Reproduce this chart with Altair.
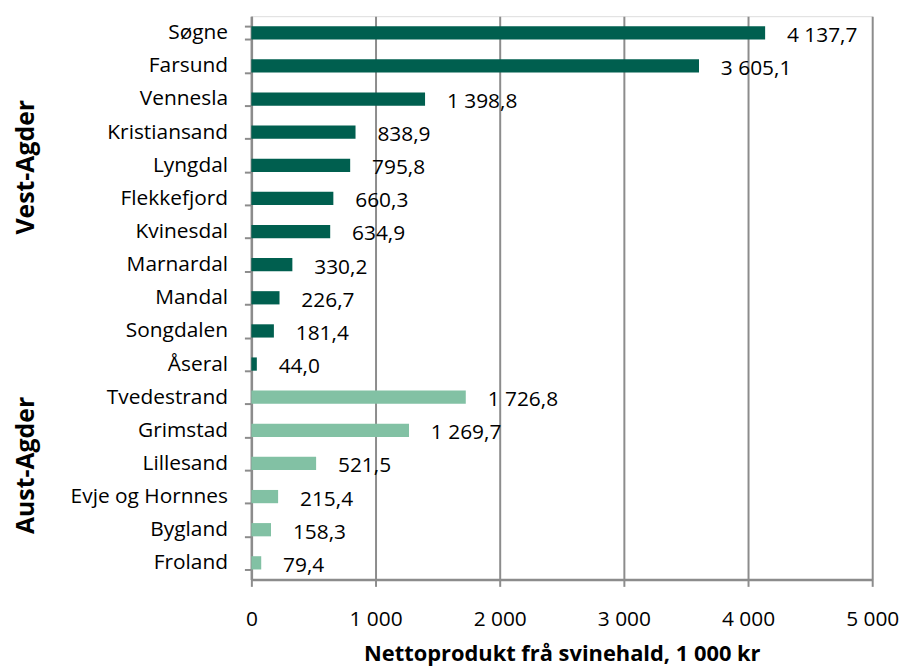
import altair as alt
import pandas as pd

municipalities = ["Søgne", "Farsund", "Vennesla", "Kristiansand", "Lyngdal", "Flekkefjord",
                  "Kvinesdal", "Marnardal", "Mandal", "Songdalen", "Åseral",
                  "Tvedestrand", "Grimstad", "Lillesand", "Evje og Hornnes", "Bygland", "Froland"]
values = [4137.7, 3605.1, 1398.8, 838.9, 795.8, 660.3, 634.9, 330.2, 226.7, 181.4, 44.0,
          1726.8, 1269.7, 521.5, 215.4, 158.3, 79.4]
counties = ["Vest-Agder"] * 11 + ["Aust-Agder"] * 6

group_names = ["Vest-Agder", "Aust-Agder"]
group_anchor = ["Lyngdal", "Lillesand"]


def no_fmt(v):
    s = f"{v:,.1f}"
    return s.replace(",", " ").replace(".", ",")


df = pd.DataFrame({"kommune": municipalities, "verdi": values, "fylke": counties})
df["label"] = [no_fmt(v) for v in values]
gdf = pd.DataFrame({"fylke": group_names, "kommune": group_anchor})

FONT = "Open Sans"
GRAY = "#8c8c8c"
FS = 21

yscale = alt.Scale(domain=municipalities, paddingInner=0.6, paddingOuter=0.3)
xscale = alt.Scale(domain=[0, 5000], nice=False)

base = alt.Chart(df)

bars = base.mark_bar().encode(
    y=alt.Y("kommune:N", scale=yscale, sort=municipalities,
            axis=alt.Axis(title=None, labelFont=FONT, labelFontSize=FS, labelColor="#000",
                          tickBand="extent", tickSize=7, tickColor=GRAY, tickWidth=2,
                          domainColor=GRAY, domainWidth=2.5, labelPadding=17, grid=False)),
    x=alt.X("verdi:Q", scale=xscale,
            axis=alt.Axis(title="Nettoprodukt frå svinehald, 1 000 kr", values=[0, 1000, 2000, 3000, 4000, 5000],
                          labelExpr="replace(format(datum.value, ','), ',', ' ')",
                          labelFlush=False, labelOverlap=False,
                          labelFont=FONT, labelFontSize=FS, labelColor="#000",
                          titleFont=FONT, titleFontSize=22, titleFontWeight="bold", titleColor="#000",
                          titlePadding=15, tickSize=7, tickColor=GRAY, tickWidth=2,
                          domainColor=GRAY, domainWidth=2.5, labelPadding=22,
                          grid=True, gridColor=GRAY, gridWidth=2)),
    color=alt.Color("fylke:N", scale=alt.Scale(domain=["Vest-Agder", "Aust-Agder"],
                                               range=["#005f4f", "#82c1a4"]), legend=None),
)

labels = base.mark_text(align="left", baseline="middle", dx=22, dy=3, font=FONT,
                        fontSize=FS, color="#000").encode(
    y=alt.Y("kommune:N", scale=yscale, sort=municipalities),
    x=alt.X("verdi:Q", scale=xscale),
    text="label:N",
)

groups = alt.Chart(gdf).mark_text(angle=270, font=FONT, fontSize=25, fontWeight="bold",
                                  color="#000", align="center", baseline="middle", dx=-2).encode(
    y=alt.Y("kommune:N", scale=yscale, sort=municipalities),
    x=alt.value(-227),
    text="fylke:N",
)

chart = alt.layer(bars, labels, groups).properties(
    width=625, height=567,
    autosize=alt.AutoSizeParams(type="none"),
    padding={"left": 245, "top": 6, "right": 30, "bottom": 95},
).configure_view(stroke=GRAY, strokeWidth=2).configure(background="white")

chart.save("out.html", embed_options={"renderer": "svg", "actions": False})
